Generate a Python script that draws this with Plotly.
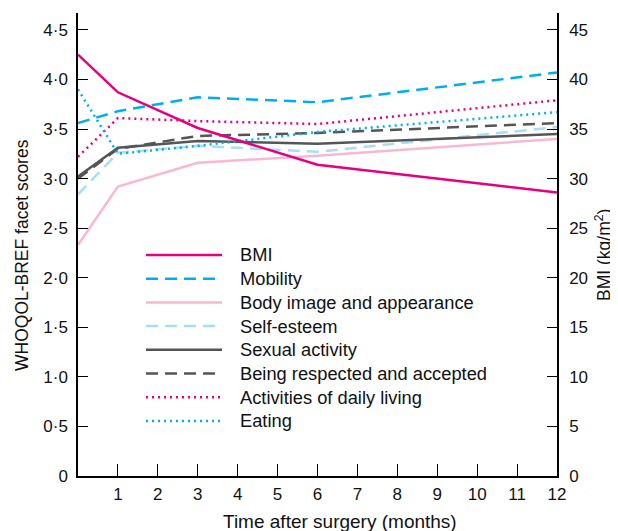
import plotly.graph_objects as go

months = [0, 1, 3, 6, 12]
bmi = [42.5, 38.7, 35.1, 31.4, 28.6]
mobility = [3.56, 3.68, 3.82, 3.77, 4.07]
body_image = [2.33, 2.92, 3.16, 3.23, 3.40]
self_esteem = [2.84, 3.26, 3.33, 3.27, 3.52]
sexual_activity = [3.02, 3.31, 3.38, 3.35, 3.45]
respected = [3.00, 3.30, 3.43, 3.46, 3.56]
daily_living = [3.22, 3.61, 3.58, 3.55, 3.79]
eating = [3.90, 3.25, 3.33, 3.47, 3.67]

left_ticks = [0, 0.5, 1, 1.5, 2, 2.5, 3, 3.5, 4, 4.5]
left_ticktext = ["0", "0·5", "1·0", "1·5", "2·0", "2·5", "3·0", "3·5", "4·0", "4·5"]
right_ticks = [0, 5, 10, 15, 20, 25, 30, 35, 40, 45]
x_ticks = list(range(1, 13))

MAG = "#E6007E"
CYAN = "#00AEEF"
PINK = "#F7B8D4"
LBLUE = "#A8DDF5"
GREY = "#555555"

series = [
    ("BMI", bmi, MAG, "solid", 2.5, "y2"),
    ("Mobility", mobility, CYAN, "12px,7px", 2.5, "y"),
    ("Body image and appearance", body_image, PINK, "solid", 2.5, "y"),
    ("Self-esteem", self_esteem, LBLUE, "12px,7px", 2.5, "y"),
    ("Sexual activity", sexual_activity, GREY, "solid", 2.5, "y"),
    ("Being respected and accepted", respected, GREY, "12px,7px", 2.5, "y"),
    ("Activities of daily living", daily_living, MAG, "2px,4px", 2.5, "y"),
    ("Eating", eating, CYAN, "2px,4px", 2.5, "y"),
]

FONT = "Liberation Sans, Arial, sans-serif"
TXT = "#111111"
fig = go.Figure()
order = [2, 3, 4, 5, 6, 7, 1, 0]
for i in order:
    name, vals, col, dash, w, ax = series[i]
    fig.add_trace(go.Scatter(x=months, y=vals, mode="lines", name=name,
                             line=dict(color=col, dash=dash, width=w),
                             yaxis=ax, showlegend=False))

# page has an 8px body margin; target pixel positions are in page coordinates
OFF = 8
FW, FH = 618 - OFF, 531 - OFF
L, R, T, B = 78, 557, 13, 476  # plot area in page pixels
W, H = R - L, B - T
shapes = []
annots = []
y0 = 255
step = 23.7
for k, (name, vals, col, dash, w, ax) in enumerate(series):
    ypx = y0 + k * step
    yp = (B - ypx) / H
    shapes.append(dict(type="line", xref="paper", yref="paper",
                       x0=(146 - L) / W, x1=(222 - L) / W, y0=yp, y1=yp,
                       line=dict(color=col, dash=dash, width=w)))
    annots.append(dict(xref="paper", yref="paper", x=(238 - L) / W, y=yp,
                       text=name, showarrow=False, xanchor="left", yanchor="middle",
                       font=dict(size=18.3, color=TXT, family=FONT)))

annots.append(dict(xref="paper", yref="paper", x=(603 - L) / W, y=(476 - 255) / H,
                   text="BMI (kg/m<sup>2</sup>)",
                   textangle=-90, showarrow=False, xanchor="center", yanchor="middle",
                   font=dict(size=17.5, color=TXT, family=FONT)))
annots.append(dict(xref="paper", yref="paper", x=(22 - L) / W, y=(476 - 255) / H,
                   text="WHOQOL-BREF facet scores",
                   textangle=-90, showarrow=False, xanchor="center", yanchor="middle",
                   font=dict(size=17.5, color=TXT, family=FONT)))
annots.append(dict(xref="paper", yref="paper", x=(340 - L) / W, y=(476 - 521) / H,
                   text="Time after surgery (months)",
                   showarrow=False, xanchor="center", yanchor="middle",
                   font=dict(size=19, color=TXT, family=FONT)))

axis_common = dict(showline=True, linecolor="black", linewidth=1.5, showgrid=False,
                   zeroline=False, automargin=False, tickcolor="black", tickwidth=1.2,
                   ticks="inside", tickfont=dict(size=17, family=FONT, color=TXT))

fig.update_layout(
    width=FW, height=FH,
    margin=dict(l=L - OFF, r=618 - R, t=T - OFF, b=531 - B),
    paper_bgcolor="white", plot_bgcolor="white",
    font=dict(family=FONT, size=17, color=TXT),
    showlegend=False,
    shapes=shapes, annotations=annots,
    xaxis=dict(range=[0, 12], tickvals=x_ticks, ticklen=12, ticklabelstandoff=2,
               **axis_common),
    yaxis=dict(range=[0, 4.67], tickvals=left_ticks, ticktext=left_ticktext,
               ticklen=10, ticklabelstandoff=5, **axis_common),
    yaxis2=dict(range=[0, 46.7], tickvals=right_ticks, overlaying="y", side="right",
                ticklen=10, ticklabelstandoff=7, **axis_common),
)

fig.write_html("out.html")
